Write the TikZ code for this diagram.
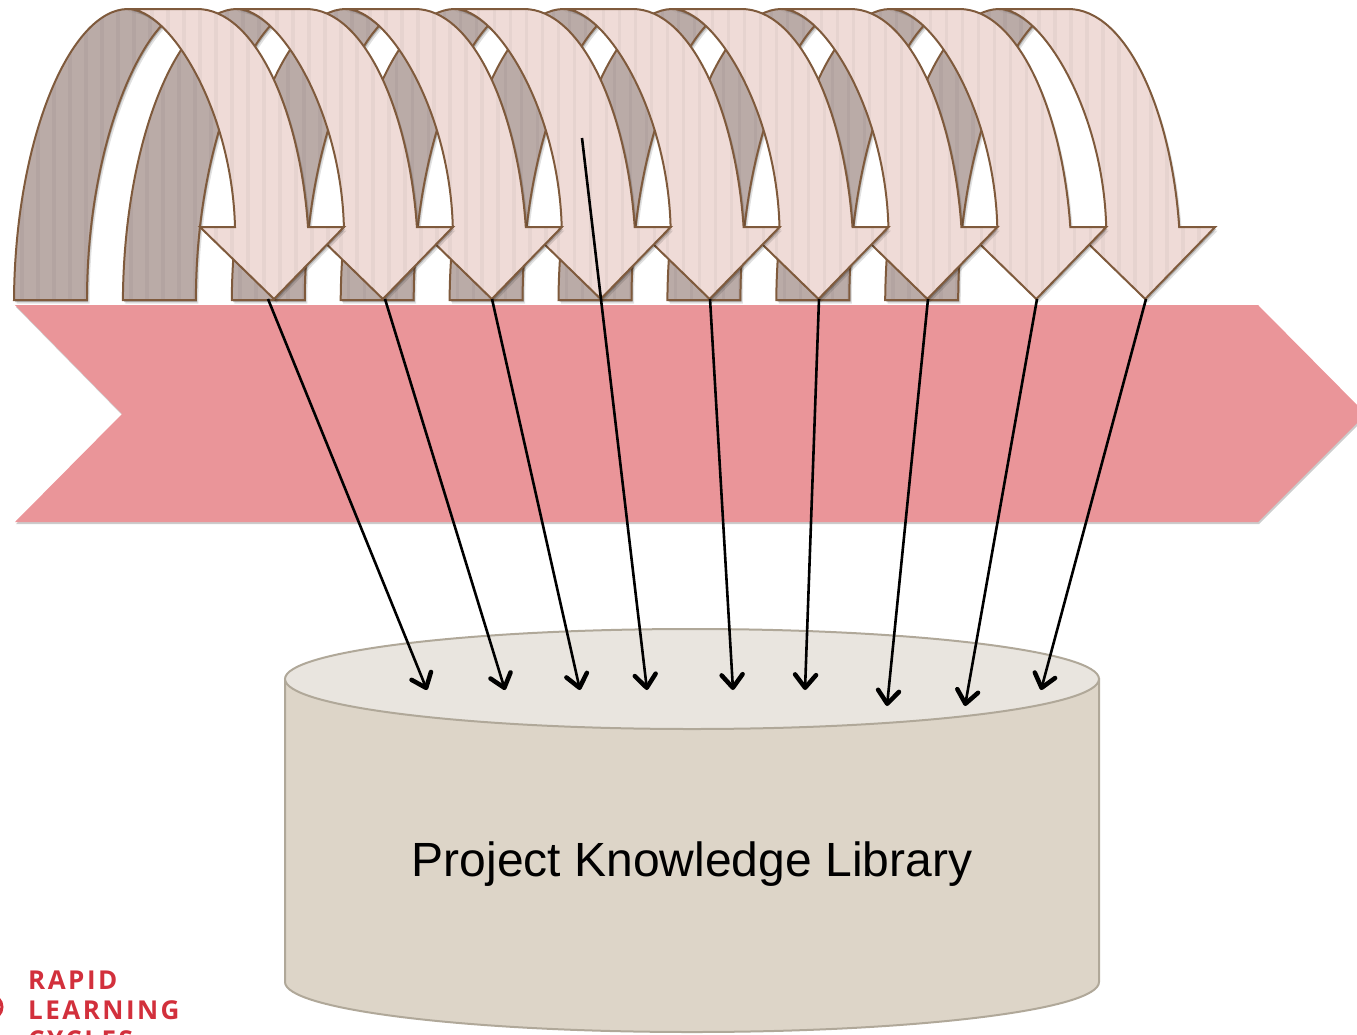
\documentclass[tikz,border=0pt]{standalone}
\usepackage{fontspec}
\setmainfont{Liberation Sans}
\newfontfamily\logofont[LetterSpace=9.5,BoldFont={* Bold}]{Open Sans}
\usetikzlibrary{arrows.meta,shadows}
\definecolor{backdark}{HTML}{BAABA7}
\definecolor{frontpale}{HTML}{EFDBD7}
\definecolor{rimbrown}{HTML}{7F5A3C}
\definecolor{bandpink}{HTML}{EA9599}
\definecolor{drumside}{HTML}{DDD5C8}
\definecolor{drumtop}{HTML}{E9E5DF}
\definecolor{drumrim}{HTML}{B0A899}
\definecolor{logored}{HTML}{D2303C}
\tikzset{
  softshadow/.style={
    drop shadow={shadow xshift=2.5pt,shadow yshift=-3.5pt,opacity=.12,fill=black},
    drop shadow={shadow xshift=1.2pt,shadow yshift=-2pt,opacity=.22,fill=black}},
  % faint vertical stripes inside the arrow parts
  stripes/.style={path picture={
    \foreach \s in {8,24,...,200} {
      \draw[black,opacity=.035,line width=3.5pt] (path picture bounding box.north west) ++(\s,0) -- ++(0,320);
    }}},
  backleg/.style={draw=rimbrown,line width=2pt,fill=backdark,softshadow,stripes},
  frontpart/.style={draw=rimbrown,line width=2pt,fill=frontpale,softshadow,stripes},
  band/.style={fill=bandpink,drop shadow={shadow xshift=1pt,shadow yshift=-2pt,opacity=.2,fill=black}},
  drum/.style={draw=drumrim,line width=2pt,fill=drumside},
  drumlid/.style={draw=drumrim,line width=2pt,fill=drumtop},
  harvest/.style={-{Straight Barb[length=13pt,width=21pt,line width=4.5pt,round]},line width=2.6pt,black},
  lab/.style={font=\fontsize{48}{48}\selectfont},
  logotext/.style={text=logored,anchor=base west,inner sep=0,font=\fontsize{26}{26}\logofont\bfseries},
}
\begin{document}
\begin{tikzpicture}[x=1pt,y=-1pt]
  \useasboundingbox (0,0) rectangle (1357,1034);
  \clip (0,0) rectangle (1357,1034);
  % the band behind everything
  \path[band] (15,305) -- (1258,305) -- (1366,414) -- (1258,522) -- (15,522) -- (122,414) -- cycle;
  % Row of u-turn arrows, the leftmost one lies on top
  \foreach \n in {8,7,...,0} {
    \begin{scope}[xshift=\n*108.9pt]
      \path[backleg] (14,300) .. controls (15,140) and (70,9) .. (128,9)
        .. controls (142,9) and (152,16) .. (162,25)
        .. controls (125,65) and (87,170) .. (87,300) -- cycle;
      \path[frontpart] (128,9) -- (197,9) .. controls (255,9) and (300,110) .. (308,227)
        -- (344,227) -- (274,299) -- (200,227) -- (235,227)
        .. controls (232,110) and (170,9) .. (128,9) -- cycle;
    \end{scope}
  }
  % the library
  \path[drum] (285,679) -- (285,982) arc[start angle=180,end angle=0,x radius=407,y radius=50] -- (1099,679) -- cycle;
  \path[drumlid] (692,679) ellipse [x radius=407,y radius=50];
  \node[lab] (library) at (692,864) {Project Knowledge Library};
  % what each cycle hands to the library
  \foreach \n/\sx/\sy/\ex/\ey in {1/268/299/427/690,2/385/299/505/690,3/492/299/580/690,
      4/582/138/647/690,5/710/299/733/690,6/819/299/805/690,7/928/299/887/706,
      8/1037/299/965/706,9/1146/299/1041/690} {
    \coordinate (tip\n) at (\sx,\sy);
    \coordinate (land\n) at (\ex,\ey);
    \draw[harvest] (tip\n) -- (land\n);
  }
  % logo, cut off by the page
  \node[logotext] (rapid) at (28,989) {RAPID};
  \node[logotext] (learning) at (28,1019) {LEARNING};
  \node[logotext] (cycles) at (28,1049) {CYCLES};
  \node[circle,draw=logored,line width=3pt,minimum size=24pt,inner sep=0] (logoring) at (-10,1007) {};
\end{tikzpicture}
\end{document}
